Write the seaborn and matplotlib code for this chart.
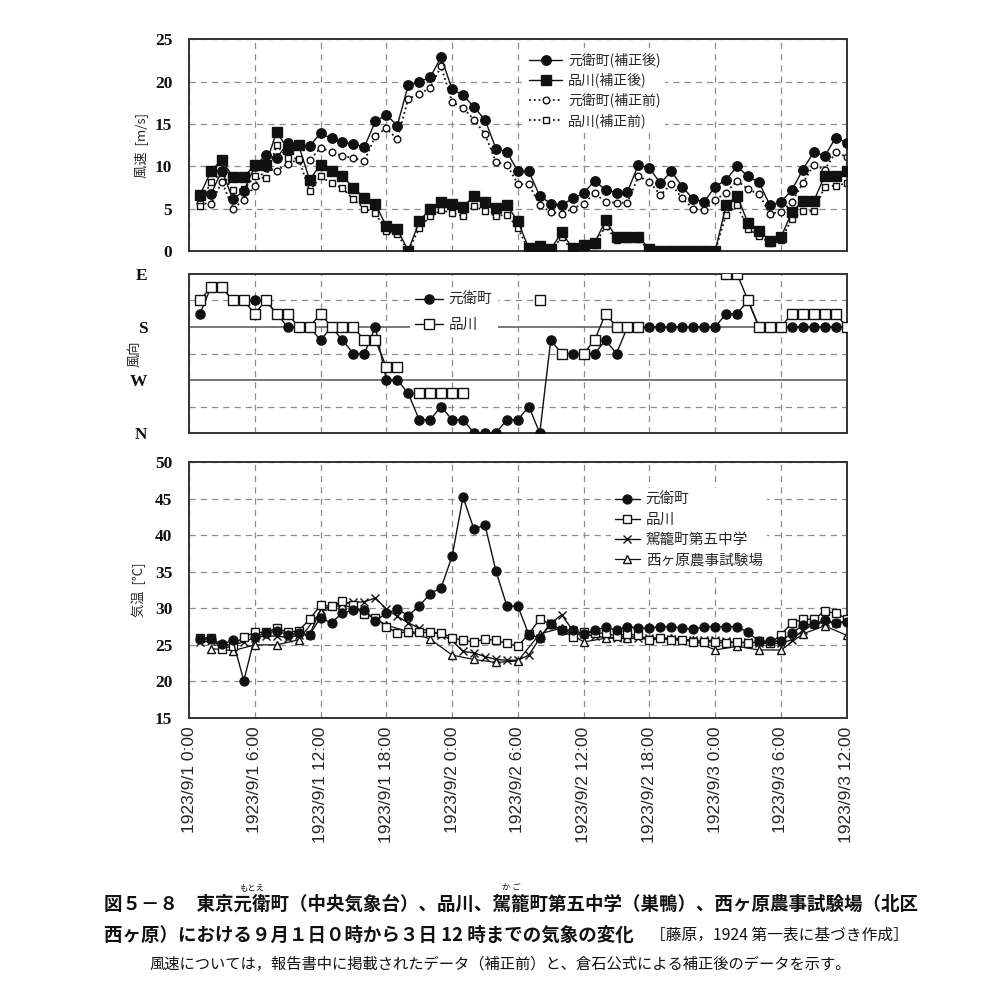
import numpy as np
import pandas as pd
import matplotlib
matplotlib.use("Agg")
import matplotlib.pyplot as plt
import seaborn as sns
from matplotlib.lines import Line2D

# ---------------- data (hour index: 1 = 1923/9/1 1:00 ... 60 = 1923/9/3 12:00)
hours = list(range(1, 61))
tick_hours = list(range(0, 61, 6))
tick_labels = ["1923/9/1 0:00", "1923/9/1 6:00", "1923/9/1 12:00", "1923/9/1 18:00",
               "1923/9/2 0:00", "1923/9/2 6:00", "1923/9/2 12:00", "1923/9/2 18:00",
               "1923/9/3 0:00", "1923/9/3 6:00", "1923/9/3 12:00"]

# wind speed [m/s]
wind_moto_after = [6.5, 6.7, 9.5, 6.1, 7.1, 10.0, 11.3, 11.0, 12.7, 12.5, 12.4, 13.9, 13.3, 12.9, 12.6,
                   12.3, 15.3, 16.1, 14.8, 19.6, 20.0, 20.5, 22.9, 19.1, 18.4, 17.0, 15.5, 12.1, 11.7, 9.4,
                   9.4, 6.5, 5.6, 5.4, 6.2, 6.8, 8.3, 7.2, 6.9, 7.0, 10.2, 9.8, 8.0, 9.4, 7.6,
                   6.1, 5.8, 7.6, 8.4, 10.0, 8.8, 8.1, 5.4, 5.8, 7.2, 9.6, 11.7, 11.2, 13.4, 12.8]
wind_shina_after = [6.6, 9.4, 10.8, 8.7, 8.7, 10.2, 10.2, 14.1, 12.0, 12.5, 8.4, 10.2, 9.4, 8.9, 7.4,
                    6.3, 5.6, 2.9, 2.6, 0.0, 3.5, 5.0, 5.8, 5.6, 5.2, 6.5, 5.8, 5.1, 5.4, 3.5,
                    0.3, 0.6, 0.2, 2.2, 0.3, 0.7, 0.9, 3.6, 1.6, 1.7, 1.7, 0.2, 0.0, 0.0, 0.0,
                    0.0, 0.0, 0.0, 5.4, 6.5, 3.3, 2.4, 1.2, 1.6, 4.6, 5.9, 5.9, 8.9, 8.9, 9.4]
wind_moto_before = [5.7, 5.5, 8.2, 5.0, 6.0, 7.7, 9.8, 9.5, 10.3, 10.8, 10.7, 12.2, 11.7, 11.2, 11.0,
                    10.6, 13.6, 14.5, 13.2, 18.0, 18.5, 19.3, 21.8, 17.6, 16.9, 15.5, 13.8, 10.5, 10.2, 7.9,
                    7.9, 5.4, 4.6, 4.4, 5.0, 5.6, 6.8, 5.8, 5.7, 5.7, 8.8, 8.2, 6.6, 7.9, 6.2,
                    5.0, 4.8, 6.0, 6.9, 8.3, 7.3, 6.7, 4.4, 4.6, 5.8, 8.0, 10.2, 9.6, 11.7, 11.1]
wind_shina_before = [5.3, 8.2, 9.2, 7.2, 7.3, 8.8, 8.6, 12.5, 11.0, 10.9, 7.1, 8.8, 8.0, 7.4, 6.1,
                     5.0, 4.5, 2.3, 2.0, 0.0, 2.7, 4.1, 4.8, 4.5, 4.1, 5.3, 4.7, 4.1, 4.3, 2.7,
                     0.1, 0.3, 0.0, 1.6, 0.0, 0.3, 0.7, 2.9, 1.3, 1.4, 1.4, 0.1, 0.0, 0.0, 0.0,
                     0.0, 0.0, 0.0, 4.3, 5.4, 2.6, 1.8, 0.9, 1.3, 3.8, 4.7, 4.7, 7.6, 7.7, 8.0]

# wind direction (16-point, N=0, W=4, S=8, E=12)
dir_labels = ["N", "W", "S", "E"]
nan = np.nan
dir_moto = [9, 11, 11, 10, 10, 10, 10, 9, 8, 8, 8, 7, 8, 7, 6,
            6, 8, 4, 4, 3, 1, 1, 2, 1, 1, 0, 0, 0, 1, 1,
            2, 0, 7, 6, 6, 6, 6, 7, 6, 8, 8, 8, 8, 8, 8,
            8, 8, 8, 9, 9, 10, 8, 8, 8, 8, 8, 8, 8, 8, 8]
dir_shina = [10, 11, 11, 10, 10, 9, 10, 9, 9, 8, 8, 9, 8, 8, 8,
             7, 7, 5, 5, nan, 3, 3, 3, 3, 3, nan, nan, nan, nan, nan,
             nan, 10, nan, 6, nan, 6, 7, 9, 8, 8, 8, nan, nan, nan, nan,
             nan, nan, nan, 12, 12, 10, 8, 8, 8, 9, 9, 9, 9, 9, 8]

# air temperature [degC]
temp_moto = [25.8, 25.8, 25.1, 25.6, 20.1, 26.1, 26.6, 26.9, 26.4, 26.6, 26.4, 28.7, 28.0, 29.4, 29.7,
             29.8, 28.3, 29.3, 29.9, 29.0, 30.3, 32.0, 32.8, 37.1, 45.2, 40.8, 41.4, 35.1, 30.3, 30.3,
             26.4, 26.0, 27.8, 27.0, 27.0, 26.5, 27.0, 27.4, 27.0, 27.5, 27.3, 27.3, 27.5, 27.5, 27.3,
             27.1, 27.5, 27.5, 27.5, 27.5, 26.7, 25.5, 25.5, 25.5, 26.6, 27.7, 27.8, 28.4, 28.0, 28.1]
temp_shina = [25.9, 26.0, 24.4, 24.9, 26.1, 26.7, 26.7, 27.3, 26.7, 26.9, 28.5, 30.4, 30.3, 31.0, 30.4,
              29.2, 28.7, 27.5, 26.6, 26.8, 26.7, 26.7, 26.6, 26.0, 25.6, 25.4, 25.8, 25.6, 25.2, 24.8,
              26.5, 28.5, 27.8, 27.0, 26.1, 26.8, 26.6, 26.6, 26.2, 26.5, 26.3, 25.6, 25.9, 25.6, 25.7,
              25.4, 25.4, 25.4, 25.2, 25.4, 25.2, 25.5, 25.2, 26.4, 28.0, 28.5, 28.5, 29.6, 29.3, 28.6]
temp_kago = [25.4, 25.5, 25.0, 25.0, 25.4, 26.0, 26.2, 26.2, 26.0, 26.3, 26.4, 29.8, 30.3, 30.7, 30.8,
             30.9, 31.4, 29.9, 28.9, 28.0, 27.3, 26.8, 26.4, 25.6, 24.1, 23.9, 23.4, 23.0, 22.9, 22.9,
             23.6, 25.9, 28.0, 29.1, 27.0, 26.5, 26.2, 26.0, 26.0, 26.2, 26.0, 26.0, 25.9, 25.8, 25.7,
             25.6, 25.6, 25.6, 25.5, 25.3, 25.4, 25.2, 25.2, 25.2, 25.7, 27.0, 27.8, 28.1, 28.0, 28.2]
nishi_hours = list(range(2, 61, 2))
temp_nishi = [24.5, 24.2, 25.0, 25.0, 25.7, 29.5, 30.5, 29.5, 27.7, 26.8, 25.8, 23.6, 23.0, 22.6, 22.8,
              26.5, 27.3, 25.4, 25.9, 25.9, 25.8, 26.0, 25.6, 24.3, 24.8, 24.3, 24.3, 26.5, 27.6, 26.3]

# ---------------- style
sns.set_theme(style="white")
plt.rcParams["font.family"] = ["Noto Sans CJK JP", "DejaVu Sans"]
JP = ["Noto Sans CJK JP", "DejaVu Sans"]
SERIF = "Liberation Serif"
BLK = "#111111"
GRID = "#8c8c8c"


def sline(ax, x, y, marker, ms, mfc, ls="-", lw=1.0, mew=1.0, z=3):
    df = pd.DataFrame({"x": x, "y": y})
    df["seg"] = df["y"].isna().cumsum()
    df = df.dropna()
    sns.lineplot(data=df, x="x", y="y", units="seg", estimator=None, sort=False, ax=ax,
                 color=BLK, linestyle=ls, linewidth=lw, marker=marker, markersize=ms,
                 markerfacecolor=mfc, markeredgecolor=BLK, markeredgewidth=mew,
                 legend=False, zorder=z)


def style_axis(ax, ypad):
    ax.set_xlim(0, 60)
    ax.set_xticks(tick_hours)
    ax.tick_params(length=0)
    ax.tick_params(axis="y", pad=ypad)
    for s in ax.spines.values():
        s.set_color("#333333")
        s.set_linewidth(1.4)
    ax.set_xlabel("")
    ax.xaxis.grid(True, linestyle=(0, (5, 4)), color=GRID, linewidth=0.9)
    ax.set_axisbelow(True)
    for lab in ax.get_yticklabels():
        lab.set_fontfamily(SERIF)
        lab.set_fontweight("bold")
        lab.set_fontsize(12.5)
        lab.set_color("#111111")


fig = plt.figure(figsize=(10, 10.01), dpi=100)
ax1 = fig.add_axes([0.189, 0.7493, 0.6577, 0.2114])
ax2 = fig.add_axes([0.189, 0.5674, 0.6577, 0.1589])
ax3 = fig.add_axes([0.189, 0.2827, 0.6577, 0.2558])

# ---------------- panel 1: wind speed
sline(ax1, hours, wind_moto_before, "o", 4.8, "white", ls=":", lw=1.3, z=2)
sline(ax1, hours, wind_shina_before, "s", 5.0, "white", ls=":", lw=1.3, z=2)
sline(ax1, hours, wind_moto_after, "o", 6.8, BLK, z=3)
sline(ax1, hours, wind_shina_after, "s", 6.8, BLK, z=3)
ax1.set_ylim(0, 25)
ax1.set_yticks(range(0, 26, 5))
ax1.yaxis.grid(True, linestyle=(0, (5, 4)), color=GRID, linewidth=0.9)
style_axis(ax1, 12)
ax1.set_xticklabels([])
ax1.set_ylabel("風速  [m/s]", fontsize=9.5)
ax1.yaxis.set_label_coords(-0.062, 0.5)
h1 = [Line2D([], [], color=BLK, lw=1, marker="o", ms=6.8, mfc=BLK, mec=BLK),
      Line2D([], [], color=BLK, lw=1, marker="s", ms=6.8, mfc=BLK, mec=BLK),
      Line2D([], [], color=BLK, lw=1.3, ls=":", marker="o", ms=4.8, mfc="white", mec=BLK),
      Line2D([], [], color=BLK, lw=1.3, ls=":", marker="s", ms=5.0, mfc="white", mec=BLK)]
leg1 = ax1.legend(h1, ["元衛町(補正後)", "品川(補正後)", "元衛町(補正前)", "品川(補正前)"],
                  loc="upper left", bbox_to_anchor=(0.50, 0.99), frameon=True, framealpha=1,
                  facecolor="white", edgecolor="none", fontsize=10, handlelength=2.4,
                  labelspacing=0.38, borderpad=0.3, handletextpad=0.4, fancybox=False)
leg1.set_zorder(10)

# ---------------- panel 2: wind direction
sline(ax2, hours, dir_moto, "o", 6.6, BLK, z=3)
sline(ax2, hours, dir_shina, "s", 6.6, "white", z=4)
ax2.set_ylim(0, 12)
ax2.set_yticks([0, 4, 8, 12])
ax2.set_yticklabels(dir_labels)
for yv in (2, 6, 10):
    ax2.axhline(yv, linestyle=(0, (5, 4)), color=GRID, linewidth=0.9, zorder=1)
for yv in (4, 8):
    ax2.axhline(yv, linestyle="-", color="#777777", linewidth=1.4, zorder=1)
style_axis(ax2, 30)
ax2.set_xticklabels([])
ax2.set_ylabel("風向", fontsize=9.5)
ax2.yaxis.set_label_coords(-0.072, 0.5)
h2 = [Line2D([], [], color=BLK, lw=1, marker="o", ms=6.6, mfc=BLK, mec=BLK),
      Line2D([], [], color=BLK, lw=1, marker="s", ms=6.6, mfc="white", mec=BLK)]
leg2 = ax2.legend(h2, ["元衛町", "品川"], loc="upper left", bbox_to_anchor=(0.325, 0.96),
                  frameon=True, framealpha=1, facecolor="white", edgecolor="none",
                  fontsize=10.5, handlelength=1.9, labelspacing=0.75, borderpad=0.35,
                  handletextpad=0.4, fancybox=False)
leg2.set_zorder(10)

# ---------------- panel 3: air temperature
sline(ax3, hours, temp_kago, "x", 6.0, "none", z=2)
sline(ax3, nishi_hours, temp_nishi, "^", 5.5, "white", lw=0.9, z=2)
sline(ax3, hours, temp_shina, "s", 5.8, "white", z=3)
sline(ax3, hours, temp_moto, "o", 6.4, BLK, z=4)
ax3.set_ylim(15, 50)
ax3.set_yticks(range(15, 51, 5))
ax3.yaxis.grid(True, linestyle=(0, (5, 4)), color=GRID, linewidth=0.9)
style_axis(ax3, 12)
ax3.set_xticklabels(tick_labels, rotation=90, fontfamily="Liberation Sans", fontsize=12.5)
ax3.tick_params(axis="x", pad=6)
ax3.set_ylabel("気温  [℃]", fontsize=9.5)
ax3.yaxis.set_label_coords(-0.066, 0.5)
h3 = [Line2D([], [], color=BLK, lw=1, marker="o", ms=6.4, mfc=BLK, mec=BLK),
      Line2D([], [], color=BLK, lw=1, marker="s", ms=5.8, mfc="white", mec=BLK),
      Line2D([], [], color=BLK, lw=1, marker="x", ms=6.0, mec=BLK),
      Line2D([], [], color=BLK, lw=0.9, marker="^", ms=5.5, mfc="white", mec=BLK)]
leg3 = ax3.legend(h3, ["元衛町", "品川", "駕籠町第五中学", "西ヶ原農事試験場"],
                  loc="upper left", bbox_to_anchor=(0.63, 0.925), frameon=True, framealpha=1,
                  facecolor="white", edgecolor="none", fontsize=10.5, handlelength=1.7,
                  labelspacing=0.42, borderpad=0.3, handletextpad=0.4, fancybox=False)
leg3.set_zorder(10)

# ---------------- caption
renderer = fig.canvas.get_renderer()


def tw(s, **kw):
    t = fig.text(0, 0, s, **kw)
    w = t.get_window_extent(renderer).width
    t.remove()
    return w / fig.bbox.width


cap1 = "図５－８　東京元衛町（中央気象台）、品川、駕籠町第五中学（巣鴨）、西ヶ原農事試験場（北区"
cap2 = "西ヶ原）における９月１日０時から３日 12 時までの気象の変化"
cap2b = "［藤原，1924 第一表に基づき作成］"
cap3 = "風速については，報告書中に掲載されたデータ（補正前）と、倉石公式による補正後のデータを示す。"
kw1 = dict(fontsize=13.3, fontweight="bold", family=JP, color="#111111")
x0 = 0.104
fig.text(x0, 0.097, cap1, ha="left", va="center", **kw1)
fig.text(x0, 0.066, cap2, ha="left", va="center", **kw1)
fig.text(0.909, 0.066, cap2b, ha="right", va="center", fontsize=11.3, family=JP, color="#111111")
fig.text(0.5, 0.037, cap3, ha="center", va="center", fontsize=11.0, family=JP, color="#111111")
# furigana
xm = x0 + tw("図５－８　東京", **kw1) + tw("元衛", **kw1) / 2
fig.text(xm, 0.113, "もとえ", ha="center", va="center", fontsize=6, family=JP, color="#111111")
xk = x0 + tw("図５－８　東京元衛町（中央気象台）、品川、", **kw1) + tw("駕籠", **kw1) / 2
fig.text(xk, 0.113, "か ご", ha="center", va="center", fontsize=6, family=JP, color="#111111")

fig.savefig("out.png", dpi=100, facecolor="white")
